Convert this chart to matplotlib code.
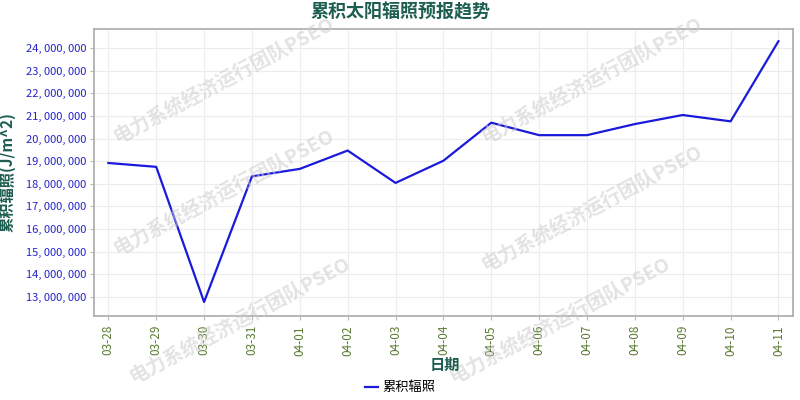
import matplotlib as mpl
mpl.use('Agg')
import matplotlib.pyplot as plt
from matplotlib.ticker import FuncFormatter

plt.rcParams['font.family'] = ['Noto Sans CJK SC', 'DejaVu Sans']

dates = ['03-28', '03-29', '03-30', '03-31', '04-01', '04-02', '04-03', '04-04',
         '04-05', '04-06', '04-07', '04-08', '04-09', '04-10', '04-11']
radiation = [18920000, 18750000, 12780000, 18330000, 18660000, 19470000, 18040000, 19020000,
             20700000, 20150000, 20150000, 20640000, 21040000, 20760000, 24300000]
yticks = [13000000, 14000000, 15000000, 16000000, 17000000, 18000000,
          19000000, 20000000, 21000000, 22000000, 23000000, 24000000]

fig = plt.figure(figsize=(8, 4), dpi=100)
ax = fig.add_axes([0.1175, 0.21, 0.8735, 0.7175])

x = list(range(len(dates)))
ax.plot(x, radiation, color='#1a1adb', lw=1.6, label='累积辐照', zorder=3)

ax.set_xlim(-0.3, len(dates) - 1 + 0.3)
ax.set_ylim(12160000, 24840000)
ax.set_xticks(x)
ax.set_xticklabels(dates, rotation=90, color='#5a7a32', fontsize=8.5)
ax.set_yticks(yticks)
ax.yaxis.set_major_formatter(FuncFormatter(lambda v, p: '{:,}'.format(int(v)).replace(',', ', ')))
for t in ax.get_yticklabels():
    t.set_color('#2222cc')
    t.set_fontsize(8)
ax.tick_params(axis='both', length=3, color='#bbbbbb')
ax.tick_params(axis='y', pad=2.5)
ax.grid(True, color='#ececec', lw=0.8, zorder=0)
for s in ax.spines.values():
    s.set_color('#aaaaaa')
    s.set_linewidth(1.2)

fig.text(0.5, 0.97, '累积太阳辐照预报趋势', ha='center', va='center',
         fontsize=13, fontweight='bold', color='#1d5e50')
ax.set_ylabel('累积辐照(J/m^2)', fontsize=11, fontweight='bold', color='#1d5e50')
ax.yaxis.set_label_coords(-0.112, 0.5)
fig.text(0.556, 0.088, '日期', ha='center', va='center', fontsize=11,
         fontweight='bold', color='#1d5e50')

leg = fig.legend(loc='center', bbox_to_anchor=(0.5, 0.03), frameon=False,
                 fontsize=9.5, handlelength=1.0, handletextpad=0.3)

# watermark
wm = '电力系统经济运行团队PSEO'
for (wx, wy) in [(0.28, 0.8), (0.28, 0.52), (0.3, 0.2), (0.74, 0.8), (0.74, 0.48), (0.7, 0.2)]:
    fig.text(wx, wy, wm, rotation=28, fontsize=14, fontweight='bold', color='#cccccc',
             alpha=0.55, ha='center', va='center', zorder=0)

fig.savefig('out.png', dpi=100)
plt.close(fig)
